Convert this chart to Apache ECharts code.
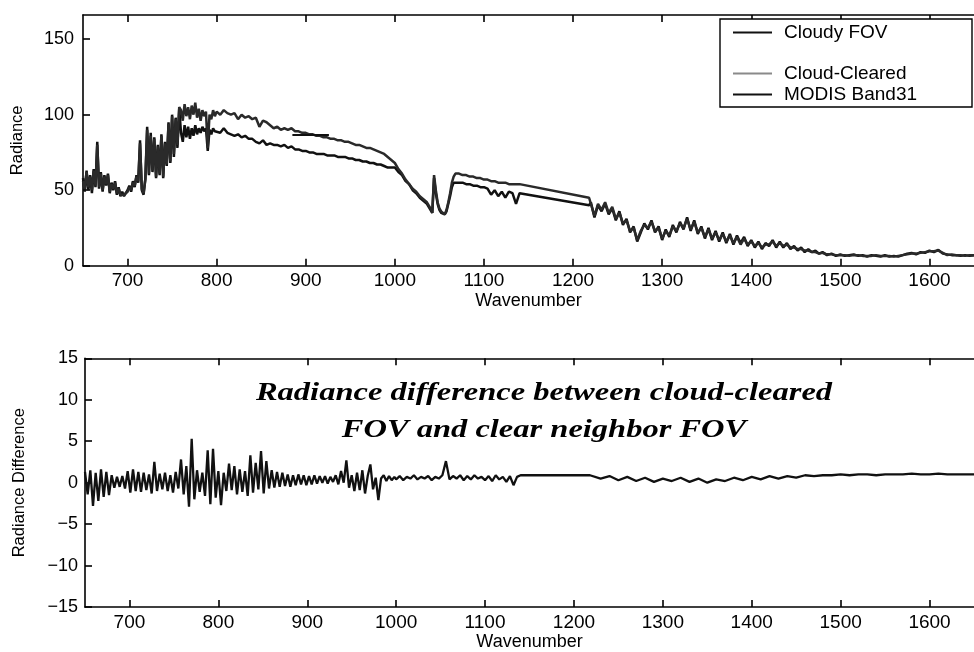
<!DOCTYPE html>
<html>
<head>
<meta charset="utf-8">
<script src="https://cdn.jsdelivr.net/npm/echarts@6/dist/echarts.min.js"></script>
<style>
  html, body { margin: 0; padding: 0; background: #fff; }
  #chart { width: 974px; height: 652px; }
</style>
</head>
<body>
<div id="chart"></div>
<script>
// ---- Spectra: radiance vs. wavenumber (cm^-1) ----
const wavenumber = [
  650,652,654,656,658,660,662,664,666,668,
  670,672,674,676,678,680,682,684,686,688,
  690,692,694,696,698,700,702,704,706,708,
  710,712,714,716,718,720,722,724,726,728,
  730,732,734,736,738,740,742,744,746,748,
  750,752,754,756,758,760,762,764,766,768,
  770,772,774,776,778,780,782,784,786,788,
  790,792,794,796,798,
  800,804,808,812,816,820,824,828,832,836,
  840,844,848,852,856,860,864,868,872,876,
  880,884,888,892,896,900,904,908,912,916,
  920,924,928,932,936,940,944,948,952,956,
  960,964,968,972,976,980,984,988,992,996,
  1000,1004,1008,1012,1016,1020,1024,1028,
  1030,1032,1034,1036,1038,1040,1042,1044,1046,1048,1050,
  1052,1054,1056,1058,1060,1062,1064,1066,1068,1070,
  1072,1076,1080,1084,1088,1092,1096,1100,1104,1108,
  1112,1116,1120,1124,1128,1132,1136,
  1140,1218,
  1220,1224,1228,1232,1236,1240,1244,1248,1252,1256,
  1260,1264,1268,1272,1276,1280,1284,1288,1292,1296,
  1300,1304,1308,1312,1316,1320,1324,1328,1332,1336,
  1340,1344,1348,1352,1356,1360,1364,1368,1372,1376,
  1380,1384,1388,1392,1396,1400,1404,1408,1412,1416,
  1420,1424,1428,1432,1436,1440,1444,1448,1452,1456,
  1460,1464,1468,1472,1476,
  1480,1485,1490,1495,1500,1505,1510,1515,1520,1525,
  1530,1535,1540,1545,1550,1555,1560,1565,1570,1575,
  1580,1585,1590,1595,1600,1605,1610,1615,1620,1625,
  1630,1635,1640,1645,1650
];

const cloudyFov = [
  58,49,63,50,60,48,64,52,82,51,
  62,49,60,53,61,48,55,50,56,47,
  52,46,49,46,48,50,53,49,56,52,
  60,55,83,50,47,58,92,60,88,62,
  85,58,80,60,87,58,82,66,95,68,
  100,72,98,78,104,88,82,93,85,92,
  84,91,86,93,87,91,88,92,89,91,
  76,90,87,91,89,
  90,88,91,88,87,86,87,85,86,84,
  84,82,81,83,80,81,80,80,79,80,
  78,79,77,77,76,76,75,75,74,74,
  74,73,73,73,72,72,72,71,71,70,
  70,69,69,68,68,67,67,66,65,65,
  65,62,60,56,54,50,48,45,
  44,43,42,41,40,37,35,58,48,41,37,
  35,34,34,36,41,46,52,55,56,55,
  55,55,54,54,53,53,52,52,51,47,
  50,46,49,45,49,48,41,
  48,40,
  42,32,40,36,41,34,38,30,36,27,
  31,22,26,16,22,28,24,30,22,26,
  17,24,19,27,22,29,24,32,23,30,
  21,26,18,25,17,23,16,22,15,21,
  14,20,15,19,13,17,12,16,11,15,
  13,17,12,16,12,15,11,13,10,12,
  9,11,9,10,8,
  9,7,8,6.5,7.5,6.5,7,7.5,6.5,7,
  6,7,6.5,6,7,6,6.5,6,7,8,
  8.5,7.5,9,8.5,10,9,10.5,8,7.5,7,
  7,6.5,7,6.5,7
];

const cloudCleared = [
  56,51,62,52,59,50,63,53,80,52,
  61,50,59,54,60,49,54,51,55,48,
  51,47,48,47,48,49,52,50,55,53,
  59,56,81,51,48,57,90,61,86,63,
  84,59,79,61,86,59,81,67,94,69,
  99,74,97,80,105,103,96,107,99,105,
  97,106,100,108,98,104,96,103,99,102,
  78,100,97,103,99,
  102,100,103,101,100,101,97,100,98,99,
  97,98,92,96,95,93,91,92,90,91,
  90,91,89,89,88,88,87,87,86,86,
  85,85,84,84,83,83,82,82,81,80,
  80,79,78,78,77,76,75,74,72,70,
  68,64,61,57,54,51,49,46,
  45,44,43,42,41,38,35,60,50,42,38,
  36,35,34,37,42,48,55,59,61,61,
  61,60,60,59,59,58,58,57,57,56,
  56,55,55,55,54,54,54,
  54,45,
  44,33,41,37,42,35,39,31,35,28,
  30,23,25,17,23,27,25,29,23,25,
  18,23,20,26,23,28,25,31,24,29,
  22,25,19,24,18,22,17,21,16,20,
  15,19,14,18,14,16,13,15,12,14,
  14,16,13,15,13,14,12,12,11,11,
  10,10,9,9,8,
  8.5,7.5,7.5,7,7,7,6.5,7,7,6.5,
  6.5,6.5,7,6.5,6.5,6.5,6,6.5,7,7.5,
  8,8,8.5,9,9.5,9.5,10,8.5,7,7.5,
  7,7,6.5,7,7
];

// MODIS band 31 spectral range and its radiance
const modisWavenumber = [885, 926];
const modisRadiance = [86.6, 86.6];

// ---- Radiance difference (cloud-cleared minus clear neighbor) ----
const diffWavenumber = [
  650,653,656,659,662,665,668,671,674,677,
  680,683,686,689,692,695,698,701,704,707,
  710,713,716,719,722,725,728,731,734,737,
  740,743,746,749,752,755,758,761,764,767,
  770,773,776,779,782,785,788,791,794,797,
  800,803,806,809,812,815,818,821,824,827,
  830,833,836,839,842,845,848,851,854,857,
  860,863,866,869,872,875,878,881,884,887,
  890,893,896,899,902,905,908,911,914,917,
  920,923,926,929,932,935,938,941,944,947,
  950,953,956,959,962,965,968,971,974,977,
  980,983,986,989,992,995,998,
  1000,1004,1008,1012,1016,1020,1024,1028,1032,1036,
  1040,1044,1048,1052,1056,1060,1064,1068,1072,1076,
  1080,1084,1088,1092,1096,1100,1104,1108,1112,1116,
  1120,1124,1128,1132,1136,
  1140,1218,
  1220,1230,1240,1250,1260,1270,1280,1290,1300,1310,
  1320,1330,1340,1350,1360,1370,1380,1390,1400,1410,
  1420,1430,1440,1450,1460,1470,1480,
  1490,1500,1510,1520,1530,1540,1550,1560,1570,1580,
  1590,1600,1610,1620,1630,1640,1650
];

const radianceDiff = [
  1.3,-1.4,1.5,-2.8,1.2,-2.2,1.6,-1.7,1.3,-1.5,
  0.9,-0.6,0.7,-0.5,0.8,-0.7,1.4,-1.2,1.6,-1.0,
  1.3,-1.1,1.2,-0.9,1.0,-1.3,2.5,-1.0,1.1,-0.8,
  1.2,-1.0,0.9,-1.2,1.3,-0.7,2.8,-1.4,2.0,-2.9,
  5.3,-2.0,1.5,-1.1,1.2,-1.6,3.9,-2.6,4.1,-1.8,
  1.4,-2.7,1.2,-1.0,2.3,-0.9,2.0,-1.4,1.6,-1.1,
  1.4,-1.6,3.3,-1.2,2.4,-0.8,3.8,-1.3,2.6,-0.7,
  1.5,-0.6,1.3,-0.5,1.2,-0.4,1.0,-0.5,0.9,-0.3,
  1.0,-0.2,0.9,-0.3,0.8,-0.2,0.9,-0.1,0.8,0.0,
  0.8,-0.1,0.7,0.1,0.9,-0.2,1.4,0.0,2.7,-0.6,
  0.9,-1.0,1.2,-0.9,1.5,-1.3,0.8,2.2,-0.8,0.6,
  -2.1,0.5,0.9,0.2,0.8,0.3,0.7,
  0.4,0.8,0.3,0.7,0.5,0.9,0.4,0.7,0.5,0.8,
  0.3,0.7,0.5,0.9,2.6,0.4,0.8,0.5,0.9,0.3,
  0.8,0.4,0.9,0.5,0.7,0.3,0.8,0.2,0.9,0.4,
  0.7,0.1,0.8,-0.3,0.7,
  0.9,0.9,
  0.9,0.5,0.8,0.3,0.7,0.2,0.6,0.1,0.5,0.2,
  0.6,0.1,0.5,0.0,0.4,0.2,0.6,0.3,0.7,0.4,
  0.8,0.5,0.8,0.6,0.9,0.8,0.9,
  0.9,1.0,0.9,1.0,1.0,0.9,1.0,1.0,1.0,1.1,
  1.0,1.0,1.1,1.0,1.0,1.0,1.0
];

// ---- Tick values ----
const xTicks = [700, 800, 900, 1000, 1100, 1200, 1300, 1400, 1500, 1600];
const radianceTicks = [0, 50, 100, 150];
const diffTicks = [-15, -10, -5, 0, 5, 10, 15];

const FONT = '"Liberation Sans", Arial, Helvetica, sans-serif';
const SERIF = '"Liberation Serif", "Times New Roman", serif';
const INK = '#000';

function pairs(xs, ys) { return xs.map((x, i) => [x, ys[i]]); }
function plainNumber(v) { return v < 0 ? '\u2212' + (-v) : String(v); }

function xAxisFor(gridIndex, position, withLabels) {
  return {
    type: 'value', gridIndex, position, min: 650, max: 1650,
    name: withLabels ? 'Wavenumber' : '',
    nameLocation: 'middle', nameGap: 24,
    nameTextStyle: { fontFamily: FONT, fontSize: 18, color: INK },
    axisLine: { show: true, onZero: false, lineStyle: { color: INK, width: 1.6 } },
    axisTick: { show: true, inside: true, length: 7, customValues: xTicks, lineStyle: { color: INK, width: 1.6 } },
    axisLabel: { show: withLabels, customValues: xTicks, margin: 6, fontFamily: FONT, fontSize: 19, color: INK, formatter: plainNumber },
    splitLine: { show: false }
  };
}

function yAxisFor(gridIndex, min, max, ticks, name, margin) {
  return {
    type: 'value', gridIndex, min, max,
    name, nameLocation: 'middle', nameRotate: 90, nameGap: 57,
    nameTextStyle: { fontFamily: FONT, fontSize: 16.5, color: INK },
    axisLine: { show: true, onZero: false, lineStyle: { color: INK, width: 1.6 } },
    axisTick: { show: true, inside: true, length: 7, customValues: ticks, lineStyle: { color: INK, width: 1.6 } },
    axisLabel: { customValues: ticks, margin, fontFamily: FONT, fontSize: 18, color: INK, formatter: plainNumber },
    splitLine: { show: false }
  };
}

function legendEntry(name, top, color) {
  return {
    data: [{ name, icon: 'rect', itemStyle: { color } }],
    left: 733, top, padding: 0,
    orient: 'horizontal', itemWidth: 39, itemHeight: 2,
    selectedMode: false, z: 6,
    textStyle: { fontFamily: FONT, fontSize: 19, color: INK, padding: [0, 0, 0, 7] }
  };
}

const chart = echarts.init(document.getElementById('chart'), null, { renderer: 'canvas' });

chart.setOption({
  animation: false,
  backgroundColor: '#fff',
  grid: [
    { left: 83, top: 15, width: 900, height: 250.7 },
    { left: 85, top: 358.3, width: 900, height: 249.4 }
  ],
  xAxis: [
    xAxisFor(0, 'bottom', true),
    xAxisFor(0, 'top', false),
    xAxisFor(1, 'bottom', true),
    xAxisFor(1, 'top', false)
  ],
  yAxis: [
    yAxisFor(0, 0, 166, radianceTicks, 'Radiance', 9),
    yAxisFor(1, -15, 15, diffTicks, 'Radiance Difference', 7)
  ],
  legend: [
    legendEntry('Cloudy FOV', 23, '#111'),
    legendEntry('Cloud-Cleared', 64, '#8a8a8a'),
    legendEntry('MODIS Band31', 85, '#111')
  ],
  graphic: [
    {
      type: 'rect', z: 5,
      shape: { x: 720, y: 19, width: 252, height: 88 },
      style: { fill: '#fff', stroke: INK, lineWidth: 1.4 }
    },
    {
      type: 'text', x: 544, y: 393, scaleX: 1.25,
      style: {
        text: 'Radiance difference between cloud-cleared',
        font: 'italic bold 26px ' + SERIF,
        fill: INK, align: 'center', verticalAlign: 'middle'
      }
    },
    {
      type: 'text', x: 544, y: 430, scaleX: 1.25,
      style: {
        text: 'FOV and clear neighbor FOV',
        font: 'italic bold 26px ' + SERIF,
        fill: INK, align: 'center', verticalAlign: 'middle'
      }
    }
  ],
  series: [
    {
      name: 'Cloudy FOV', type: 'line', xAxisIndex: 0, yAxisIndex: 0,
      data: pairs(wavenumber, cloudyFov), symbol: 'none',
      lineStyle: { color: '#111', width: 2.5 }, itemStyle: { color: '#111' }
    },
    {
      name: 'Cloud-Cleared', type: 'line', xAxisIndex: 0, yAxisIndex: 0,
      data: pairs(wavenumber, cloudCleared), symbol: 'none',
      lineStyle: { color: '#2a2a2a', width: 2.5 }, itemStyle: { color: '#2a2a2a' }
    },
    {
      name: 'MODIS Band31', type: 'line', xAxisIndex: 0, yAxisIndex: 0,
      data: pairs(modisWavenumber, modisRadiance), symbol: 'none',
      lineStyle: { color: '#111', width: 2 }, itemStyle: { color: '#111' }
    },
    {
      name: 'Radiance Difference', type: 'line', xAxisIndex: 2, yAxisIndex: 1,
      data: pairs(diffWavenumber, radianceDiff), symbol: 'none',
      lineStyle: { color: '#111', width: 2.3 }, itemStyle: { color: '#111' }
    }
  ]
});
</script>
</body>
</html>
